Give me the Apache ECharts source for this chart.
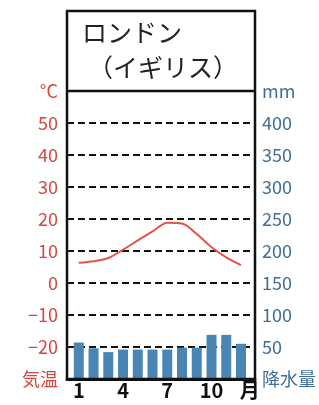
<!DOCTYPE html>
<html>
<head>
<meta charset="utf-8">
<script src="https://cdn.jsdelivr.net/npm/echarts@6/dist/echarts.min.js"></script>
<style>
  html, body { margin: 0; padding: 0; background: #fff; }
  #chart { width: 319px; height: 405px; }
</style>
</head>
<body>
<div id="chart"></div>
<script>
// London climate data
const months = [1, 2, 3, 4, 5, 6, 7, 8, 9, 10, 11, 12];
const temperature = [6.3, 6.8, 7.8, 10.4, 13.3, 16.1, 18.8, 18.6, 15.3, 11.2, 8.0, 5.6];
const precipitation = [57, 48, 42, 46, 46, 46, 46, 49, 49, 69, 69, 55];
const monthLabels = [1, 4, 7, 10];

const RED = '#d2473f';
const BLUE = '#3f6f99';
const FONT = '"Noto Sans CJK JP", "Noto Sans", sans-serif';

const chart = echarts.init(document.getElementById('chart'));

chart.setOption({
  animation: false,
  grid: { left: 67, right: 64, top: 91, bottom: 26 },
  xAxis: {
    type: 'value',
    min: 0.2,
    max: 12.95,
    splitLine: { show: false },
    axisTick: { show: false },
    axisLine: { show: true, onZero: false, lineStyle: { color: '#111', width: 3 } },
    axisLabel: {
      customValues: monthLabels.concat([12.6]),
      formatter: v => (v > 12 ? '月' : String(v)),
      color: '#111',
      fontSize: 20,
      fontWeight: 'bold',
      fontFamily: FONT,
      margin: 1
    }
  },
  yAxis: [
    {
      type: 'value',
      min: -30,
      max: 60,
      interval: 10,
      axisLine: { show: false },
      axisTick: { show: false },
      splitLine: { show: true, lineStyle: { color: '#111', width: 2, type: [7, 4] } },
      axisLabel: {
        color: RED,
        fontSize: 18,
        fontFamily: FONT,
        margin: 9,
        formatter: v => {
          if (v === 60) return '°C';
          if (v === -30) return '気温';
          return v < 0 ? '−' + Math.abs(v) : String(v);
        }
      }
    },
    {
      type: 'value',
      min: 0,
      max: 450,
      interval: 50,
      axisLine: { show: false },
      axisTick: { show: false },
      splitLine: { show: false },
      axisLabel: {
        color: BLUE,
        fontSize: 18,
        fontFamily: FONT,
        margin: 7,
        formatter: v => {
          if (v === 450) return 'mm';
          if (v === 0) return '降水量';
          return String(v);
        }
      }
    }
  ],
  series: [
    {
      type: 'bar',
      yAxisIndex: 1,
      barWidth: 10,
      itemStyle: { color: '#4a86b4' },
      data: months.map((m, i) => [m, precipitation[i]]),
      z: 1
    },
    {
      type: 'line',
      yAxisIndex: 0,
      symbol: 'none',
      smooth: 0.3,
      lineStyle: { color: '#e0544c', width: 2 },
      data: months.map((m, i) => [m, temperature[i]]),
      z: 3
    }
  ],
  graphic: [
    {
      type: 'rect',
      shape: { x: 67, y: 11, width: 188, height: 368 },
      style: { fill: 'none', stroke: '#111', lineWidth: 2.5 },
      z: 100
    },
    {
      type: 'line',
      shape: { x1: 67, y1: 91, x2: 255, y2: 91 },
      style: { stroke: '#111', lineWidth: 2.5 },
      z: 100
    },
    {
      type: 'text',
      left: 82,
      top: 20,
      style: { text: 'ロンドン', fill: '#222', fontSize: 25, fontFamily: FONT }
    },
    {
      type: 'text',
      left: 88,
      top: 55,
      style: { text: '（イギリス）', fill: '#222', fontSize: 25, fontFamily: FONT }
    }
  ]
});
</script>
</body>
</html>
